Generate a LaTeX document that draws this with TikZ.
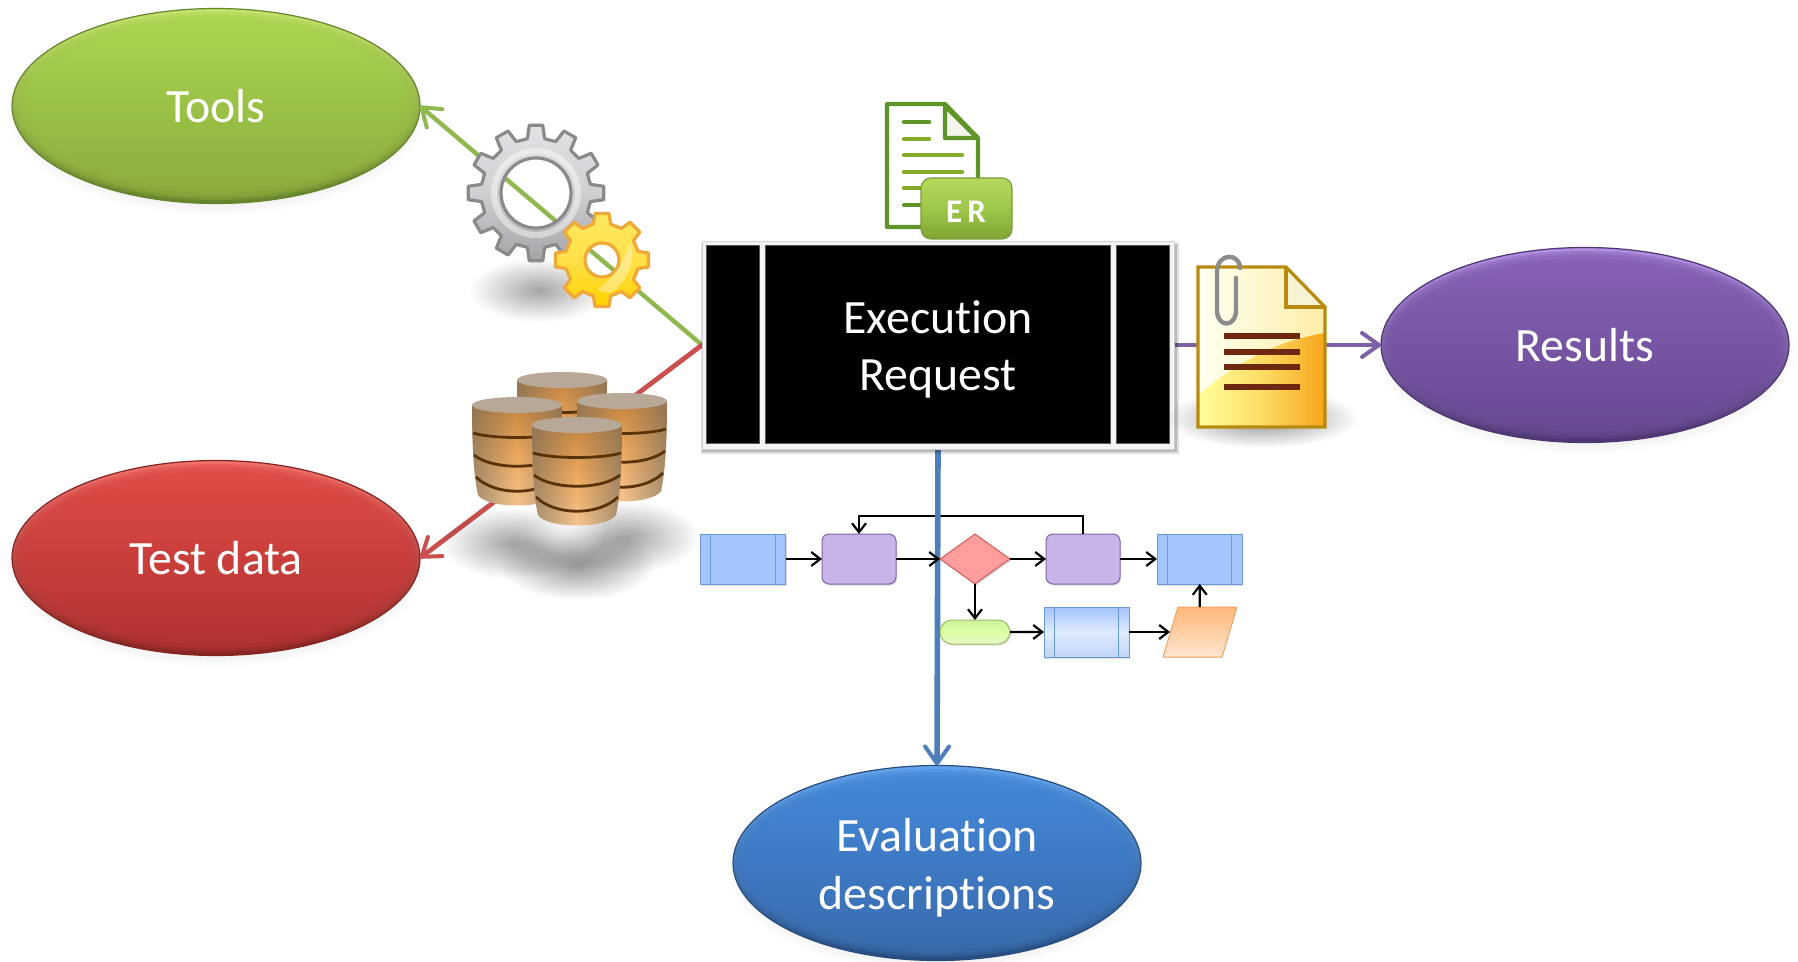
\documentclass[tikz,border=0pt]{standalone}
\usepackage{fontspec}
\setmainfont[Ligatures={NoCommon}]{Carlito}
\usetikzlibrary{arrows.meta,shapes.geometric,shapes.misc,fadings,shadows,calc}
\tikzfading[name=cyledge,left color=transparent!40,right color=transparent!40,middle color=transparent!100]
\tikzfading[name=softball,inner color=transparent!0,outer color=transparent!100]
\definecolor{gA}{HTML}{A9D54F}\definecolor{gB}{HTML}{8CAE3E}\definecolor{gR}{HTML}{C4E36C}\definecolor{gD}{HTML}{66842C}
\definecolor{rA}{HTML}{DF4A45}\definecolor{rB}{HTML}{B23331}\definecolor{rR}{HTML}{F0706A}\definecolor{rD}{HTML}{862422}
\definecolor{pA}{HTML}{8660B6}\definecolor{pB}{HTML}{684A92}\definecolor{pR}{HTML}{B08EE0}\definecolor{pD}{HTML}{4C3570}
\definecolor{bA}{HTML}{4287D8}\definecolor{bB}{HTML}{3A6CAE}\definecolor{bR}{HTML}{64A4EC}\definecolor{bD}{HTML}{264C80}
\definecolor{lnG}{HTML}{8FB84F}\definecolor{lnR}{HTML}{C9504E}\definecolor{lnP}{HTML}{7D60A6}\definecolor{lnB}{HTML}{4C7FBC}
\definecolor{fcB}{HTML}{A4C4FC}\definecolor{fcBd}{HTML}{6A9AD8}\definecolor{fcP}{HTML}{C8B4E8}\definecolor{fcPd}{HTML}{8064A2}
\definecolor{fcR}{HTML}{FF9C9C}\definecolor{fcRd}{HTML}{C9605C}
\definecolor{gold}{HTML}{B98A10}\definecolor{band}{HTML}{5A3208}
\definecolor{fcLa}{HTML}{C0D4F8}\definecolor{fcLb}{HTML}{E0ECFE}
\definecolor{cylA}{HTML}{C8873F}\definecolor{cylB}{HTML}{EFAA60}\definecolor{cylC}{HTML}{F6C792}
\definecolor{cylE}{HTML}{6E6A60}\definecolor{cylT}{HTML}{B7A898}
\definecolor{frameC}{HTML}{F4F4F4}
\definecolor{grD}{HTML}{9DBB60}\definecolor{grA}{HTML}{CDF29A}\definecolor{grB}{HTML}{DDFFA4}\definecolor{grC}{HTML}{E8F8C8}
\definecolor{orD}{HTML}{F0A060}\definecolor{orA}{HTML}{FFB878}\definecolor{orB}{HTML}{FFE6D2}
\definecolor{svA}{HTML}{E2E2E6}\definecolor{svB}{HTML}{A4A4A8}\definecolor{svC}{HTML}{D0D0D4}\definecolor{svD}{HTML}{8A8A8C}
\definecolor{yeA}{HTML}{FFE860}\definecolor{yeB}{HTML}{FFD200}\definecolor{yeC}{HTML}{FFE048}\definecolor{yeD}{HTML}{F0A838}
\definecolor{docC}{HTML}{5F9428}\definecolor{docF}{HTML}{F4F6EE}\definecolor{docL}{HTML}{84AC28}
\definecolor{erA}{HTML}{B4DA5E}\definecolor{erB}{HTML}{7FA535}\definecolor{erC}{HTML}{9FC748}\definecolor{erD}{HTML}{7C9E38}
\definecolor{rdA}{HTML}{FFFFF2}\definecolor{rdB}{HTML}{FFEEA8}\definecolor{rdC}{HTML}{FFFF9C}\definecolor{rdD}{HTML}{F8A61C}\definecolor{rdE}{HTML}{FDDC64}\definecolor{rdF}{HTML}{F7F3D2}\definecolor{rdL}{HTML}{6E2810}
\definecolor{clipC}{HTML}{8C8C8C}
\tikzset{
  x=0.5pt,y=-0.5pt,
  ovaltext/.style={text=white,align=center,font=\fontsize{23.9}{28.7}\selectfont},
  softshade/.style={fill=black,fill opacity=#1,path fading=softball},
  barb/.style={line cap=round,line join=round,-{Straight Barb[length=8.5pt,width=12pt,round,line width=2pt]}},
  fcarrow/.style={draw=black,line width=1.1pt,-{Straight Barb[length=4.5pt,width=7pt,line width=1.1pt]}},
  fcnode/.style={inner sep=0pt,outer sep=0pt,line width=.5pt,drop shadow={opacity=.25,shadow xshift=.6pt,shadow yshift=-.8pt}},
  fcblue/.style={fcnode,rectangle,draw=fcBd,fill=fcB,minimum width=42.5pt,minimum height=25pt},
  fcblueg/.style={fcnode,rectangle,draw=fcBd,minimum width=42.5pt,minimum height=25pt,top color=fcB,bottom color=fcLa,middle color=fcLb},
  fcpurple/.style={fcnode,rectangle,rounded corners=3.5pt,draw=fcPd,fill=fcP,minimum width=37pt,minimum height=25pt},
  panel/.style={fill=black,draw=black!65,line width=.3pt},
}
% oval: name, x, y, text, colours
\newcommand{\myoval}[8]{%
  \path[softshade=.45] (#2,#3+5) ellipse (212 and 104);
  \node[ellipse,inner sep=0pt,outer sep=0pt,minimum width=204pt,minimum height=97.5pt,top color=#7,bottom color=#8,draw=#8,line width=.6pt] (#1) at (#2,#3) {};
  \path[top color=#5,bottom color=#6,fill opacity=.45] (#1.center) ellipse (201 and 94);
  \path[top color=#5,bottom color=#6,fill opacity=.55] (#1.center) ellipse (198 and 91);
  \path[top color=#5,bottom color=#6,fill opacity=.7] (#1.center) ellipse (194 and 87);
  \path[top color=#5,bottom color=#6] (#1.center) ellipse (189 and 82);
  \node[ovaltext] (#1label) at (#1.center) {#4};
}
% gear: x, y, teeth, outer, root, hole, shading, border, extra
\newcommand{\mygear}[9]{%
  \begin{scope}[shift={(#1,#2)}]
    \pgfmathsetmacro{\gs}{360/#3}
    \pgfmathtruncatemacro{\gn}{#3-1}
    \path[#7,even odd rule,draw=#8,line width=1.6pt,line join=round]
      (-.30*\gs:#5)
      foreach \k [evaluate=\k as \aa using (\k-.30)*\gs,evaluate=\k as \ab using (\k-.19)*\gs,evaluate=\k as \ac using (\k+.19)*\gs,evaluate=\k as \ad using (\k+.30)*\gs] in {0,...,\gn}
      { -- (\aa:#5) -- (\ab:#4) -- (\ac:#4) -- (\ad:#5) }
      -- cycle (0,0) circle (#6);
    #9
  \end{scope}
}
% cylinder: x centre, y of the top
\newcommand{\cyl}[2]{%
  \begin{scope}[shift={(#1,#2)}]
    \path[top color=cylA,bottom color=cylC,middle color=cylB]
      (-45,8) -- (45,8) .. controls (45,50) and (43,80) .. (39,98)
      .. controls (30,112) and (-30,112) .. (-39,98) .. controls (-43,80) and (-45,50) .. (-45,8) -- cycle;
    \path[fill=cylE,path fading=cyledge]
      (-45,8) -- (45,8) .. controls (45,50) and (43,80) .. (39,98)
      .. controls (30,112) and (-30,112) .. (-39,98) .. controls (-43,80) and (-45,50) .. (-45,8) -- cycle;
    \draw[band,line width=1.4pt] (-44,36) .. controls (-25,42) and (25,42) .. (44,36);
    \draw[band,line width=1.4pt] (-43,58) .. controls (-25,73) and (25,73) .. (43,58);
    \draw[band,line width=1.4pt] (-41,80) .. controls (-22,99) and (22,99) .. (41,80);
    \path[fill=cylT] (0,8) ellipse (45 and 8);
  \end{scope}
}
\begin{document}
\begin{tikzpicture}
\useasboundingbox (0,0) rectangle (1798,962);
\fill[white] (0,0) rectangle (1798,962);

% ovals
\myoval{tools}{216}{106}{Tools}{gA}{gB}{gR}{gD}
\myoval{testdata}{216}{558}{Test data}{rA}{rB}{rR}{rD}
\myoval{results}{1585}{345}{Results}{pA}{pB}{pR}{pD}
\myoval{evaluation}{937}{863}{}{bA}{bB}{bR}{bD}
\node[ovaltext,yshift=-2.3pt] (evaluationtext) at (evaluation.center) {Evaluation\\descriptions};

% central box (frame now, panels later)
\node[rectangle,inner sep=0pt,outer sep=0pt,minimum width=236pt,minimum height=104pt] (box) at (938,345) {};

% connectors
\draw[lnG,line width=2.2pt,barb] (box.west) -- (tools.east);
\draw[lnR,line width=2.4pt,barb] (box.west) -- (testdata.east);
\draw[lnP,line width=2.4pt,barb] (box.east) -- (results.west);

% flowchart: feedback line runs under the blue connector
\node[fcpurple] (p1) at (859,559) {};
\node[fcpurple] (p2) at (1083,559) {};
\draw[fcarrow] (p2.north) -- ++(0,-18) -| (p1.north);
\draw[lnB,line width=2.8pt,barb] (box.south) -- (evaluation.north);

\node[fcblue] (b1) at (743,559) {};
\draw[fcBd,line width=.5pt] ([xshift=5.2pt]b1.north west) -- ([xshift=5.2pt]b1.south west) ([xshift=-5.2pt]b1.north east) -- ([xshift=-5.2pt]b1.south east);
\node[fcblue] (b2) at (1199.5,559) {};
\draw[fcBd,line width=.5pt] ([xshift=5.2pt]b2.north west) -- ([xshift=5.2pt]b2.south west) ([xshift=-5.2pt]b2.north east) -- ([xshift=-5.2pt]b2.south east);
\node[diamond,fcnode,draw=fcRd,fill=fcR,aspect=1.4,minimum width=35pt,minimum height=25pt] (dec) at (975,559) {};
\node[rounded rectangle,fcnode,draw=grD,top color=grA,bottom color=grC,middle color=grB,minimum width=35pt,minimum height=12pt] (term) at (975,632) {};
\node[fcblueg] (b3) at (1086.5,632) {};
\draw[fcBd,line width=.5pt] ([xshift=5.2pt]b3.north west) -- ([xshift=5.2pt]b3.south west) ([xshift=-5.2pt]b3.north east) -- ([xshift=-5.2pt]b3.south east);
\path[draw=orD,line width=.5pt,top color=orA,bottom color=orB,line join=round] (1163,657) -- (1178,607) -- (1237,607) -- (1222,657) -- cycle;
\node[rectangle,inner sep=0pt,outer sep=0pt,minimum width=30pt,minimum height=25pt] (para) at (1200,632) {};
\draw[fcarrow] (b1) -- (p1);
\draw[fcarrow] (p1) -- (dec.west);
\draw[fcarrow] (dec) -- (p2);
\draw[fcarrow] (p2) -- (b2);
\draw[fcarrow] (dec) -- (term);
\draw[fcarrow] (term) -- (b3);
\draw[fcarrow] (b3) -- (para.west);
\draw[fcarrow] (para) -- (b2);

% box frame, panels and label
\fill[black,opacity=.12] (701,243) rectangle (1179,454);
\fill[black,opacity=.18] (702,244) rectangle (1177,452);
\path[fill=frameC,draw=black!18,line width=.4pt] (box.north west) rectangle (box.south east);
\path[panel] (706,245) rectangle (759,443);
\path[panel] (765,245) rectangle (1110,443);
\path[panel] (1116,245) rectangle (1169,443);
\node[text=white,align=center,font=\fontsize{23.9}{28.7}\selectfont,yshift=-2.3pt] (boxlabel) at (box.center) {Execution\\Request};

% gears
\path[softshade=.35] (539,290) ellipse (70 and 32);
\mygear{536}{193}{12}{68}{55}{35}{top color=svA,bottom color=svB,middle color=svC}{svD}{
  \draw[white,opacity=.45,line width=3pt] (0,0) circle (42);
}
\mygear{602}{260}{8}{47}{37}{17}{top color=yeA,bottom color=yeB,middle color=yeC}{yeD}{
  \fill[white,opacity=.35] (-5,30) .. controls (10,18) and (22,5) .. (28,-18) .. controls (34,-5) and (28,22) .. (8,33) -- cycle;
}

% database cylinders
\path[softshade=.36] (513,543) ellipse (72 and 36);
\path[softshade=.36] (627,537) ellipse (72 and 36);
\path[softshade=.42] (577,564) ellipse (78 and 36);
\path[fill=white,fill opacity=.5,path fading=softball] (567,532) ellipse (40 and 24);
\cyl{562}{372}
\cyl{517}{397}
\cyl{622}{393}
\cyl{577}{417}

% ER document icon
\draw[fill=white,draw=docC,line width=2.1pt,line join=round]
  (887,104) -- (945,104) -- (978,138) -- (978,227) -- (887,227) -- cycle;
\draw[docC,fill=docF,line width=2.1pt,line join=round] (945,106) -- (945,138) -- (977,138) -- cycle;
\foreach \yy/\xe/\cc in {122/929/docC,139/929/docL,155/962/docL,172/962/docL,188/962/docL,205/962/docC}
  \draw[\cc,line width=2.2pt,line cap=round] (904,\yy) -- (\xe,\yy);
\node[rectangle,rounded corners=5pt,inner sep=0pt,minimum width=45.5pt,minimum height=30.5pt,top color=erA,bottom color=erB,middle color=erC,draw=erD,line width=.6pt] (er) at (966.5,208.5) {};
\node[inner sep=0pt,text=white,font=\fontsize{16.5}{18}\selectfont\bfseries] (erlabel) at (966,212) {E\kern 2.6pt R};

% results document icon
\path[softshade=.45] (1262,418) ellipse (96 and 30);
\path[left color=rdA,right color=rdB] (1198,267) -- (1286,267) -- (1325,307) -- (1325,427) -- (1198,427) -- cycle;
\path[left color=rdC,right color=rdD,middle color=rdE]
  (1198,395) .. controls (1240,360) and (1280,340) .. (1325,333) -- (1325,427) -- (1198,427) -- cycle;
\path[fill=rdF] (1286,268) -- (1286,307) -- (1324,307) -- cycle;
\draw[gold,line width=1.6pt,line join=miter] (1198,267) -- (1286,267) -- (1325,307) -- (1325,427) -- (1198,427) -- cycle;
\draw[gold,line width=1.6pt] (1286,267) -- (1286,307) -- (1325,307);
\foreach \yy in {336,352,367,387}
  \draw[rdL,line width=3pt] (1224,\yy) -- (1300,\yy);
\draw[clipC,line width=2.2pt,line cap=round]
  (1240,268) .. controls (1240,253) and (1217,252) .. (1217,272) -- (1217,310)
  .. controls (1217,328) and (1236,328) .. (1236,310) -- (1236,278);
\end{tikzpicture}
\end{document}
